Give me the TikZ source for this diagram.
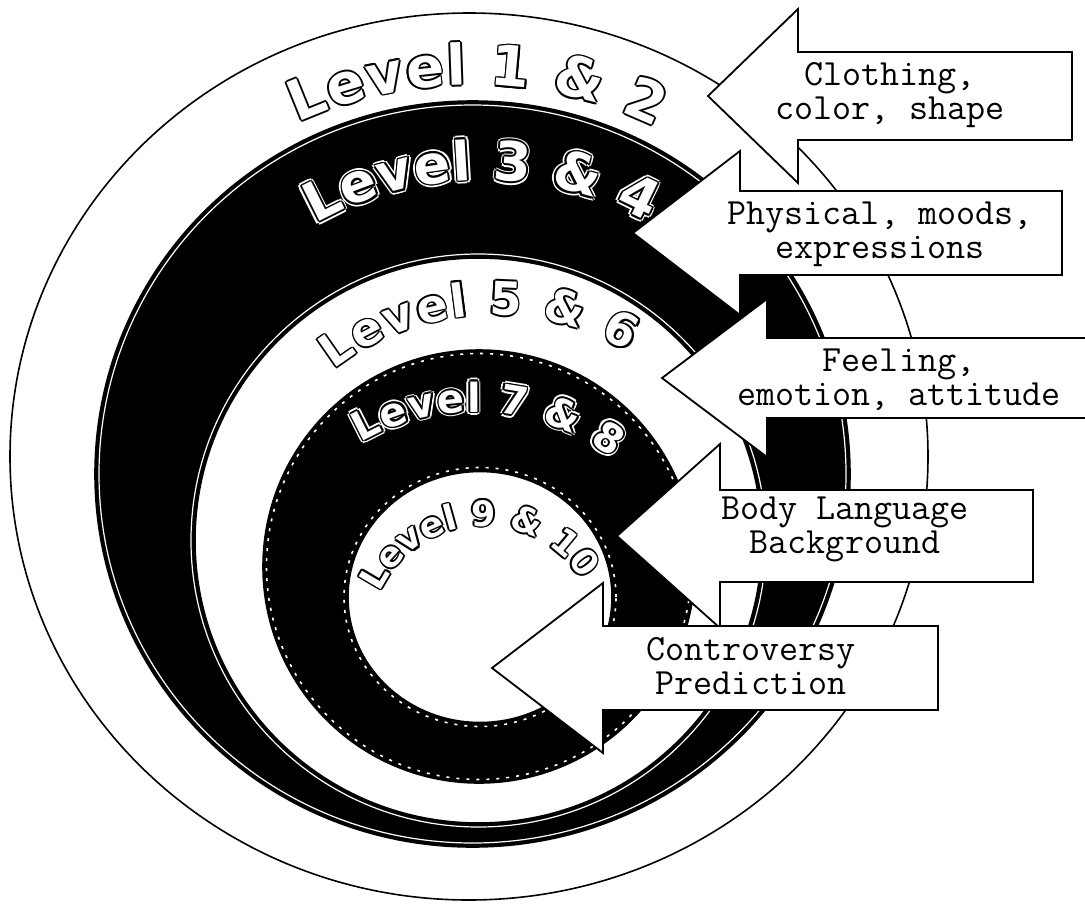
\documentclass[tikz,border=0pt]{standalone}
\usepackage{fontspec}
\newfontfamily\levelfont{DejaVu Sans}
\usetikzlibrary{decorations.text}
\tikzstyle{ring}=[draw=black,line width=1.6pt]
\tikzstyle{blackring}=[ring,fill=black]
\tikzstyle{whitering}=[ring,fill=white]
\tikzstyle{innerline}=[draw=white,line width=1.2pt]
\tikzstyle{dashline}=[draw=white,line width=1.6pt,dash pattern=on 3pt off 7pt]
\tikzstyle{blockarrow}=[draw=black,fill=white,line width=1.8pt,line join=miter]
\tikzstyle{arrowtext}=[font=\ttfamily\fontsize{37}{34}\selectfont,align=center,inner sep=0pt]

\newcommand\levelsize[1]{\levelfont\bfseries\fontsize{#1}{#1}\selectfont}
% #1 centre, #2 radius, #3/#4 angles, #5 size, #6 text
\newcommand\ringlabel[6]{%
  \foreach \a in {0,45,...,315}
    \path[decorate,decoration={text along path,text={|\levelsize{#5}|#6},text align={fit to path},text color=black}]
      ([shift={(\a:1.7)}]#1) ++(#3:#2) arc[start angle=#3,end angle=#4,radius=#2];
  \path[decorate,decoration={text along path,text={|\levelsize{#5}|#6},text align={fit to path},text color=white}]
      (#1) ++(#3:#2) arc[start angle=#3,end angle=#4,radius=#2];
}
% same, with a thin white rim for the black rings
\newcommand\haloringlabel[6]{%
  \foreach \a in {0,45,...,315}
    \path[decorate,decoration={text along path,text={|\levelsize{#5}|#6},text align={fit to path},text color=white}]
      ([shift={(\a:3.4)}]#1) ++(#3:#2) arc[start angle=#3,end angle=#4,radius=#2];
  \ringlabel{#1}{#2}{#3}{#4}{#5}{#6}
}

\begin{document}
\begin{tikzpicture}[x=1pt,y=1pt]
    \clip (0,0) rectangle (1085,-903);
    \fill[white] (0,0) rectangle (1085,-903);

    \coordinate (c1) at (469,-456.5);
    \coordinate (c2) at (472.5,-474);
    \coordinate (c3) at (478.5,-540.5);
    \coordinate (c4) at (479,-566.5);
    \coordinate (c5) at (480,-597);

    \draw[whitering] (c1) ellipse [x radius=459,y radius=443.5];
    \draw[blackring] (c2) ellipse [x radius=377.5,y radius=373];
    \draw[innerline] (c2) ellipse [x radius=373.5,y radius=369];
    \draw[innerline] (c3) ellipse [x radius=287.5,y radius=286.5];
    \draw[whitering] (c3) ellipse [x radius=283.5,y radius=282.5];
    \draw[blackring] (c4) ellipse [x radius=216,y radius=216.5];
    \draw[dashline] (c4) ellipse [x radius=212.5,y radius=213];
    \draw[dashline] (c5) ellipse [x radius=136,y radius=129.5];
    \draw[whitering] (c5) ellipse [x radius=132,y radius=125.5];

    % centres of the curved titles
    \coordinate (lab12) at (472,-505);
    \coordinate (lab34) at (483,-520);
    \coordinate (lab56) at (494,-575);
    \coordinate (lab78) at (475,-640);
    \coordinate (lab910) at (484,-641);

    \ringlabel{lab12}{420}{114.5}{64}{56}{Level 1 {\&} 2}
    \haloringlabel{lab34}{340}{119.5}{61}{54}{Level 3 {\&} 4}
    \ringlabel{lab56}{260}{128}{59}{46}{Level 5 {\&} 6}
    \haloringlabel{lab78}{228}{120}{53}{40}{Level 7 {\&} 8}
    \ringlabel{lab910}{115}{155}{32}{35}{Level 9 {\&} 10}

    \foreach \tipx/\cy/\backx/\rightx/\bh/\hh in {708/96/798/1072/44/87, 633/233/740/1062/42/82, 662/378/767/1100/40/79, 617/536/720/1033/46/92, 492/668/603/938/42/85}
        \draw[blockarrow] (\tipx,-\cy) -- (\backx,\hh-\cy) -- (\backx,\bh-\cy) -- (\rightx,\bh-\cy)
            -- (\rightx,-\cy-\bh) -- (\backx,-\cy-\bh) -- (\backx,-\cy-\hh) -- cycle;

    \foreach \name/\x/\y/\txt in {clothing/890/95/{Clothing,\\color, shape}, physical/880/234/{Physical, moods,\\expressions}, feeling/899/380/{Feeling,\\emotion, attitude}, body/845/529/{Body Language\\Background}, controversy/751/666/{Controversy\\Prediction}}
        \node[arrowtext] (\name) at (\x,-\y) {\txt};

\end{tikzpicture}
\end{document}
